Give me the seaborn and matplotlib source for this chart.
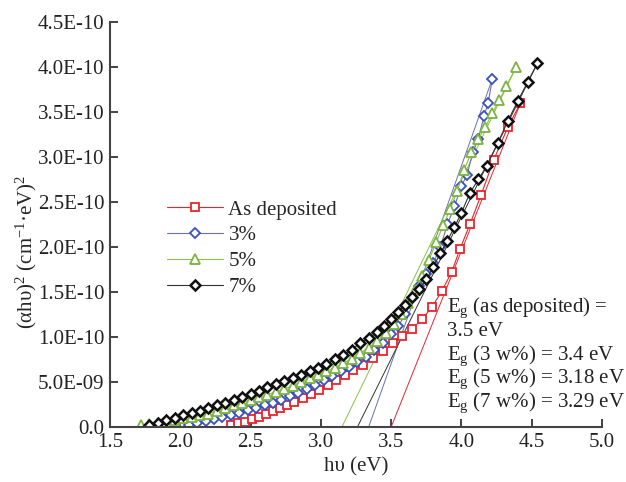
import numpy as np
import pandas as pd
import matplotlib
matplotlib.use("Agg")
import matplotlib.pyplot as plt
import seaborn as sns

# photon energy (eV) and (ahv)^2 in units of 1e-10
e_asdep = [2.36, 2.41, 2.46, 2.51, 2.56, 2.61, 2.66, 2.71, 2.76, 2.81, 2.87, 2.93,
           2.99, 3.05, 3.11, 3.17, 3.23, 3.30, 3.37, 3.44, 3.51, 3.58, 3.65, 3.72,
           3.79, 3.86, 3.93, 3.99, 4.06, 4.14, 4.23, 4.33, 4.42]
v_asdep = [0.02, 0.04, 0.06, 0.09, 0.11, 0.15, 0.18, 0.21, 0.24, 0.28, 0.32, 0.37,
           0.41, 0.47, 0.52, 0.58, 0.63, 0.69, 0.77, 0.84, 0.93, 1.01, 1.09, 1.20,
           1.33, 1.51, 1.72, 1.98, 2.25, 2.58, 2.97, 3.33, 3.60]

e_3 = [2.06, 2.12, 2.18, 2.24, 2.30, 2.36, 2.42, 2.48, 2.54, 2.60, 2.66, 2.72,
       2.78, 2.84, 2.90, 2.96, 3.02, 3.08, 3.14, 3.20, 3.26, 3.32, 3.38, 3.44,
       3.50, 3.55, 3.60, 3.65, 3.70, 3.75, 3.80, 3.85, 3.90, 3.95, 4.00, 4.04,
       4.08, 4.12, 4.16, 4.19, 4.22]
v_3 = [0.02, 0.04, 0.07, 0.09, 0.11, 0.13, 0.16, 0.19, 0.21, 0.24, 0.27, 0.30,
       0.34, 0.38, 0.42, 0.47, 0.52, 0.57, 0.62, 0.67, 0.72, 0.78, 0.85, 0.93,
       1.03, 1.12, 1.25, 1.43, 1.57, 1.70, 1.82, 2.00, 2.25, 2.45, 2.68, 2.80,
       3.05, 3.20, 3.45, 3.60, 3.87]

e_5 = [1.72, 1.78, 1.84, 1.90, 1.96, 2.02, 2.08, 2.14, 2.20, 2.26, 2.32, 2.38,
       2.44, 2.50, 2.56, 2.62, 2.68, 2.74, 2.80, 2.86, 2.92, 2.98, 3.04, 3.10,
       3.16, 3.22, 3.28, 3.34, 3.40, 3.46, 3.52, 3.57, 3.62, 3.67, 3.72, 3.77,
       3.82, 3.87, 3.92, 3.97, 4.02, 4.07, 4.12, 4.17, 4.22, 4.27, 4.32, 4.39]
v_5 = [0.02, 0.03, 0.05, 0.06, 0.08, 0.10, 0.11, 0.13, 0.15, 0.18, 0.21, 0.24,
       0.27, 0.30, 0.33, 0.36, 0.39, 0.42, 0.46, 0.50, 0.54, 0.58, 0.62, 0.66,
       0.71, 0.76, 0.82, 0.88, 0.95, 1.04, 1.14, 1.25, 1.38, 1.52, 1.68, 1.86,
       2.05, 2.24, 2.42, 2.62, 2.86, 3.05, 3.20, 3.33, 3.49, 3.63, 3.79, 4.00]

e_7 = [1.78, 1.84, 1.90, 1.96, 2.02, 2.08, 2.14, 2.20, 2.26, 2.32, 2.38, 2.44,
       2.50, 2.56, 2.62, 2.68, 2.74, 2.80, 2.86, 2.92, 2.98, 3.04, 3.10, 3.16,
       3.22, 3.28, 3.34, 3.40, 3.45, 3.50, 3.55, 3.60, 3.65, 3.70, 3.75, 3.80,
       3.85, 3.90, 3.95, 4.00, 4.06, 4.12, 4.18, 4.26, 4.33, 4.40, 4.47, 4.54]
v_7 = [0.02, 0.05, 0.08, 0.10, 0.13, 0.16, 0.18, 0.21, 0.24, 0.27, 0.30, 0.33,
       0.37, 0.40, 0.44, 0.48, 0.51, 0.55, 0.58, 0.62, 0.66, 0.70, 0.75, 0.80,
       0.86, 0.93, 0.99, 1.05, 1.12, 1.20, 1.28, 1.36, 1.44, 1.53, 1.64, 1.78,
       1.93, 2.07, 2.22, 2.38, 2.60, 2.75, 2.90, 3.16, 3.40, 3.62, 3.83, 4.04]

labels = ["As deposited", "3%", "5%", "7%"]
eg_cross = [3.50, 3.34, 3.15, 3.26]   # where the fitted lines meet the x axis
eg_text = ["E$_\\mathregular{g}$ (as deposited) =", "3.5 eV",
           "E$_\\mathregular{g}$ (3 w%) = 3.4 eV",
           "E$_\\mathregular{g}$ (5 w%) = 3.18 eV",
           "E$_\\mathregular{g}$ (7 w%) = 3.29 eV"]

yticks = [0, 0.5, 1.0, 1.5, 2.0, 2.5, 3.0, 3.5, 4.0, 4.5]
ytick_labels = ["0.0", "5.0E-09", "1.0E-10", "1.5E-10", "2.0E-10", "2.5E-10",
                "3.0E-10", "3.5E-10", "4.0E-10", "4.5E-10"]

sns.set_style("ticks")
plt.rcParams['font.family'] = ['Liberation Serif', 'DejaVu Serif']
plt.rcParams['mathtext.fontset'] = 'custom'
plt.rcParams['mathtext.rm'] = 'Liberation Serif'
plt.rcParams['mathtext.it'] = 'Liberation Serif:italic'

fig = plt.figure(figsize=(6.26, 4.82), dpi=100)
ax = fig.add_axes([0.1757, 0.1141, 0.7860, 0.8403])

series = [(e_asdep, v_asdep), (e_3, v_3), (e_5, v_5), (e_7, v_7)]
colors = ["#e8242c", "#3a4fc0", "#7cb342", "#111111"]
line_colors = ["#e8242c", "#6a6fb0", "#8cbf4a", "#333333"]
markers = ["s", "D", "^", "D"]
msizes = [5.2, 5.5, 6.5, 5.5]
mews = [1.3, 1.3, 1.3, 1.8]

for (ex, vy), lab, c, lc, m, ms, mew in zip(series, labels, colors, line_colors,
                                             markers, msizes, mews):
    df = pd.DataFrame({"E": ex, "V": vy})
    sns.lineplot(data=df, x="E", y="V", ax=ax, estimator=None, sort=False,
                 color=lc, linewidth=0.8, marker=m, markersize=ms,
                 markerfacecolor="white", markeredgecolor=c, markeredgewidth=mew,
                 label=lab)

# extrapolated band gap lines
for (ex, vy), x0, lc in zip(series, eg_cross, line_colors):
    ax.plot([x0, ex[-1]], [0, vy[-1]], color=lc, linewidth=0.7, zorder=1)

ax.set_xlim(1.5, 5.0)
ax.set_ylim(0, 4.5)
ax.set_xticks([1.5, 2.0, 2.5, 3.0, 3.5, 4.0, 4.5, 5.0])
ax.set_xticklabels(["1.5", "2.0", "2.5", "3.0", "3.5", "4.0", "4.5", "5.0"])
ax.set_yticks(yticks)
ax.set_yticklabels(ytick_labels)
ax.tick_params(direction="in", length=6, width=1.2, labelsize=15, colors="#222222",
               pad=4)
for s in ["top", "right"]:
    ax.spines[s].set_visible(False)
for s in ["left", "bottom"]:
    ax.spines[s].set_linewidth(1.5)
    ax.spines[s].set_color("#444444")

ax.set_xlabel("h\u03c5 (eV)", fontsize=15, labelpad=4)
ax.set_ylabel("(\u03b1h\u03c5)$^\\mathregular{2}$ (cm$^\\mathregular{-1}$\u00b7eV)$^\\mathregular{2}$",
              fontsize=15)
ax.yaxis.set_label_coords(-0.145, 0.432)

ys = [1.28, 1.01, 0.74, 0.49, 0.22]
for t, yy in zip(eg_text, ys):
    ax.text(3.9, yy, t, fontsize=15, va="baseline", ha="left", color="#222222")

ax.legend(loc="upper left", bbox_to_anchor=(0.2668, 0.585),
          bbox_transform=fig.transFigure, frameon=False, fontsize=15,
          handlelength=2.7, handletextpad=0.25, labelspacing=0.3,
          borderpad=0, borderaxespad=0, numpoints=1)

fig.savefig("out.png", dpi=100)
